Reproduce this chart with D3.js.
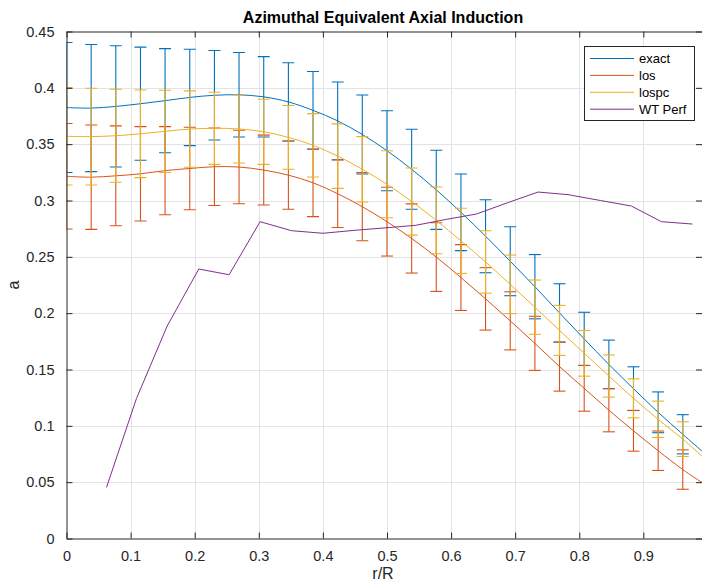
<!DOCTYPE html>
<html>
<head>
<meta charset="utf-8">
<script src="https://cdn.jsdelivr.net/npm/d3@7"></script>
<style>
  html, body { margin: 0; padding: 0; background: #fff; }
  svg { display: block; font-family: "Liberation Sans", Arial, Helvetica, sans-serif; }
</style>
</head>
<body>
<svg id="chart" width="702" height="583"></svg>
<script>
// Radial stations (r/R) where the error bars sit; the last curve entry is the blade tip end.
const rBars = [0, 0.0385, 0.0769, 0.1154, 0.1538, 0.1923, 0.2308, 0.2692, 0.3077, 0.3462,
  0.3846, 0.4231, 0.4615, 0.5, 0.5385, 0.5769, 0.6154, 0.6538, 0.6923, 0.7308,
  0.7692, 0.8077, 0.8462, 0.8846, 0.9231, 0.9615];
const rCurve = rBars.concat([0.9915]);

// Mean axial induction per method (27 values: one per station plus the end value)
const exactVals = [0.3825, 0.382, 0.3835, 0.3859, 0.3886, 0.3915, 0.3934, 0.3938, 0.392, 0.3875,
  0.380, 0.3707, 0.3586, 0.3442, 0.3277, 0.3095, 0.2895, 0.2683, 0.2461, 0.2235,
  0.2002, 0.1772, 0.1545, 0.133, 0.112, 0.0925, 0.0776];
const losVals = [0.3215, 0.3207, 0.3219, 0.3237, 0.3265, 0.3284, 0.330, 0.3297, 0.327, 0.3225,
  0.3157, 0.306, 0.2945, 0.2812, 0.2663, 0.2498, 0.2316, 0.2127, 0.1932, 0.1732,
  0.1526, 0.1333, 0.1139, 0.0956, 0.0779, 0.0612, 0.0497];
const lospcVals = [0.357, 0.3567, 0.3575, 0.3592, 0.3614, 0.3634, 0.3641, 0.3635, 0.361, 0.356,
  0.349, 0.3394, 0.3277, 0.3144, 0.2991, 0.2824, 0.2642, 0.2455, 0.2256, 0.2053,
  0.1847, 0.1644, 0.1442, 0.1244, 0.1058, 0.0882, 0.073];

// Error bar half-widths at each station
const exactErr = [0.0577, 0.0564, 0.0538, 0.0502, 0.0462, 0.0428, 0.0397, 0.0375, 0.0357, 0.0347,
  0.0345, 0.0345, 0.0351, 0.0355, 0.0355, 0.0351, 0.034, 0.0324, 0.0306, 0.0285,
  0.0259, 0.0236, 0.0216, 0.0194, 0.0181, 0.0174];
const losErr = [0.0468, 0.0463, 0.0443, 0.0419, 0.0391, 0.0366, 0.0344, 0.0326, 0.031, 0.0303,
  0.030, 0.030, 0.0302, 0.0305, 0.0307, 0.0305, 0.0292, 0.0277, 0.0258, 0.024,
  0.0218, 0.0203, 0.0192, 0.0181, 0.0175, 0.0175];
const lospcErr = [0.0433, 0.0429, 0.0413, 0.0389, 0.0365, 0.0339, 0.032, 0.0302, 0.0289, 0.0283,
  0.0281, 0.0286, 0.029, 0.0297, 0.0298, 0.0296, 0.0289, 0.0277, 0.026, 0.0241,
  0.0222, 0.0203, 0.0187, 0.0173, 0.0161, 0.0154];

// WT_Perf reference solution
const wtR = [0.0624, 0.1092, 0.157, 0.2064, 0.2537, 0.302, 0.351, 0.4003, 0.4486, 0.497,
  0.545, 0.593, 0.6396, 0.688, 0.7357, 0.7825, 0.833, 0.8814, 0.9282, 0.9766];
const wtVals = [0.0453, 0.1243, 0.1885, 0.2392, 0.2341, 0.2812, 0.2732, 0.2709, 0.2735, 0.2757,
  0.278, 0.2833, 0.288, 0.298, 0.3075, 0.3052, 0.300, 0.2951, 0.2812, 0.2791];

const seriesNames = ["exact", "los", "lospc", "WT Perf"];
const seriesColors = ["#0072BD", "#D95319", "#EDB120", "#7E2F8E"];
const xTicks = [0, 0.1, 0.2, 0.3, 0.4, 0.5, 0.6, 0.7, 0.8, 0.9];
const yTicks = [0, 0.05, 0.1, 0.15, 0.2, 0.25, 0.3, 0.35, 0.4, 0.45];

(function draw() {
  const svg = d3.select("#chart");
  const pL = 66.5, pR = 702, pT = 31.5, pB = 538.5;
  const axisColor = "#262626";

  const x = d3.scaleLinear().domain([0, 0.9915]).range([pL, pR]);
  const y = d3.scaleLinear().domain([0, 0.45]).range([pB, pT]);

  svg.append("defs").append("clipPath").attr("id", "plotClip")
    .append("rect").attr("x", pL).attr("y", pT).attr("width", pR - pL).attr("height", pB - pT);

  // Grid
  const grid = svg.append("g").attr("stroke", "#e3e3e3").attr("stroke-width", 1);
  grid.selectAll(".gx").data(xTicks.slice(1)).join("line")
    .attr("x1", d => Math.round(x(d)) + 0.5).attr("x2", d => Math.round(x(d)) + 0.5)
    .attr("y1", pT).attr("y2", pB);
  grid.selectAll(".gy").data(yTicks.slice(1, -1)).join("line")
    .attr("y1", d => Math.round(y(d)) + 0.5).attr("y2", d => Math.round(y(d)) + 0.5)
    .attr("x1", pL).attr("x2", pR);

  // Axes (ticks pointing inward, box on)
  const fmt = d => d3.format("~g")(d);
  const xAxisB = d3.axisBottom(x).tickValues(xTicks).tickSizeInner(-6).tickSizeOuter(0).tickPadding(12).tickFormat(fmt);
  const xAxisT = d3.axisTop(x).tickValues(xTicks).tickSizeInner(-6).tickSizeOuter(0).tickFormat("");
  const yAxisL = d3.axisLeft(y).tickValues(yTicks).tickSizeInner(-6).tickSizeOuter(0).tickPadding(12).tickFormat(fmt);
  const yAxisR = d3.axisRight(y).tickValues(yTicks).tickSizeInner(-6).tickSizeOuter(0).tickFormat("");

  function styleAxis(g) {
    g.select(".domain").attr("stroke", axisColor);
    g.selectAll(".tick line").attr("stroke", axisColor);
    g.selectAll(".tick text").attr("fill", axisColor).attr("font-size", "14.5px")
      .attr("font-family", "Liberation Sans, Arial, sans-serif");
  }

  const plot = svg.append("g").attr("clip-path", "url(#plotClip)");

  const line = d3.line().x(d => x(d[0])).y(d => y(d[1])).curve(d3.curveCatmullRom.alpha(0.5));
  const poly = d3.line().x(d => x(d[0])).y(d => y(d[1]));

  const methodSeries = [
    { vals: exactVals, err: exactErr, color: seriesColors[0] },
    { vals: losVals, err: losErr, color: seriesColors[1] },
    { vals: lospcVals, err: lospcErr, color: seriesColors[2] }
  ];

  methodSeries.forEach(s => {
    plot.append("path")
      .attr("d", line(rCurve.map((r, i) => [r, s.vals[i]])))
      .attr("fill", "none").attr("stroke", s.color).attr("stroke-width", 1);
    const bars = plot.append("g").attr("stroke", s.color).attr("stroke-width", 1.1);
    rBars.forEach((r, i) => {
      const cx = x(r), hi = y(s.vals[i] + s.err[i]), lo = y(s.vals[i] - s.err[i]);
      bars.append("line").attr("x1", cx).attr("x2", cx).attr("y1", hi).attr("y2", lo);
      bars.append("line").attr("x1", cx - 6).attr("x2", cx + 6).attr("y1", hi).attr("y2", hi);
      bars.append("line").attr("x1", cx - 6).attr("x2", cx + 6).attr("y1", lo).attr("y2", lo);
    });
  });

  plot.append("path")
    .attr("d", poly(wtR.map((r, i) => [r, wtVals[i]])))
    .attr("fill", "none").attr("stroke", seriesColors[3]).attr("stroke-width", 1);

  svg.append("g").attr("transform", `translate(0,${pB})`).call(xAxisB).call(styleAxis);
  svg.append("g").attr("transform", `translate(0,${pT})`).call(xAxisT).call(styleAxis);
  svg.append("g").attr("transform", `translate(${pL},0)`).call(yAxisL).call(styleAxis);
  svg.append("g").attr("transform", `translate(${pR},0)`).call(yAxisR).call(styleAxis);

  // Title and axis labels
  svg.append("text").attr("x", 383).attr("y", 23).attr("text-anchor", "middle")
    .attr("font-size", "16px").attr("font-weight", "bold").attr("fill", "#000")
    .text("Azimuthal Equivalent Axial Induction");
  svg.append("text").attr("x", 383).attr("y", 579).attr("text-anchor", "middle")
    .attr("font-size", "16px").attr("fill", axisColor).text("r/R");
  svg.append("text").attr("transform", "translate(19,285) rotate(-90)").attr("text-anchor", "middle")
    .attr("font-size", "16px").attr("fill", axisColor).text("a");

  // Legend
  const lg = svg.append("g");
  lg.append("rect").attr("x", 584.5).attr("y", 46.5).attr("width", 110).attr("height", 74)
    .attr("fill", "#fff").attr("stroke", axisColor).attr("stroke-width", 1);
  seriesNames.forEach((name, i) => {
    const ly = 58.5 + i * 16.9;
    lg.append("line").attr("x1", 590).attr("x2", 634).attr("y1", ly).attr("y2", ly)
      .attr("stroke", seriesColors[i]).attr("stroke-width", 1);
    lg.append("text").attr("x", 639).attr("y", ly).attr("dy", "0.35em")
      .attr("font-size", "13px").attr("fill", "#000").text(name);
  });
})();
</script>
</body>
</html>
